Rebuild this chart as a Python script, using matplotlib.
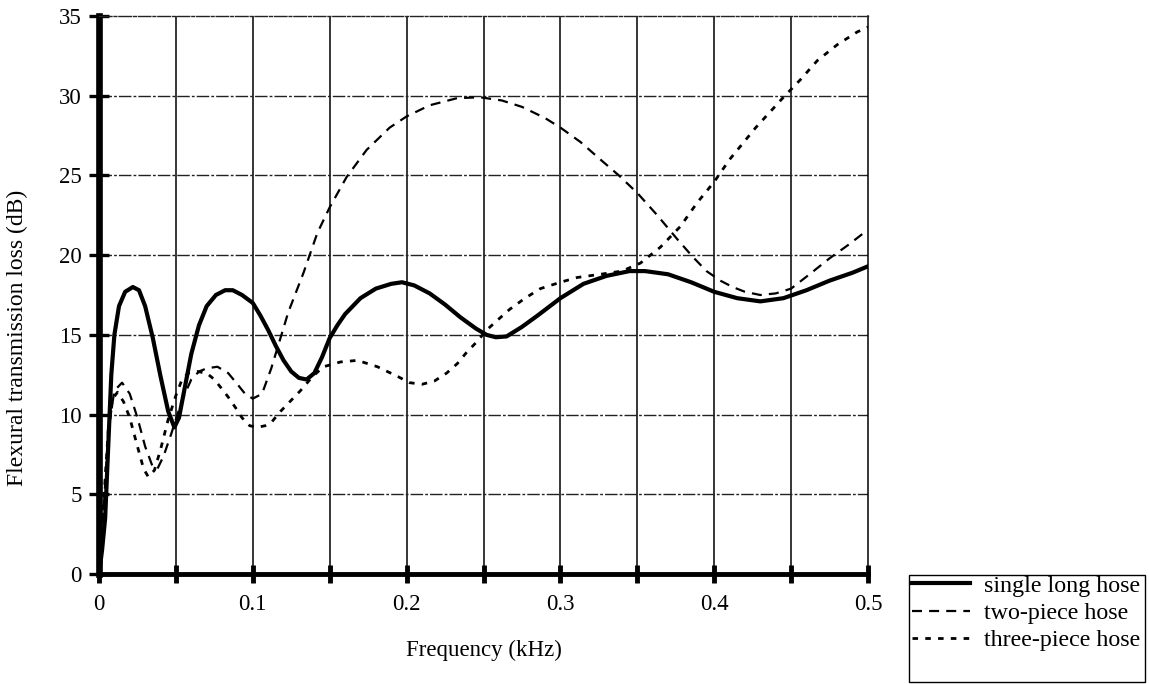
import matplotlib
matplotlib.use("Agg")
import matplotlib.pyplot as plt
from matplotlib.patches import Rectangle
from matplotlib.ticker import MultipleLocator

plt.rcParams['font.family'] = 'serif'
plt.rcParams['font.serif'] = ['Liberation Serif', 'DejaVu Serif']

# ---- data ----
single_x = [0.000, 0.002, 0.004, 0.006, 0.008, 0.010, 0.013, 0.017, 0.022, 0.026,
            0.030, 0.035, 0.040, 0.045, 0.049, 0.052, 0.056, 0.060, 0.065, 0.070,
            0.076, 0.082, 0.087, 0.093, 0.100, 0.105, 0.110, 0.115, 0.120, 0.125,
            0.130, 0.135, 0.140, 0.145, 0.150, 0.155, 0.160, 0.170, 0.180, 0.190,
            0.197, 0.205, 0.215, 0.225, 0.235, 0.245, 0.252, 0.258, 0.265, 0.275,
            0.285, 0.300, 0.315, 0.330, 0.345, 0.355, 0.370, 0.385, 0.400, 0.415,
            0.430, 0.445, 0.460, 0.475, 0.490, 0.500]
single_y = [0.0, 1.5, 3.5, 8.0, 12.5, 15.0, 16.8, 17.7, 18.0, 17.8,
            16.8, 14.8, 12.4, 10.2, 9.2, 9.8, 11.8, 13.8, 15.6, 16.8,
            17.5, 17.8, 17.8, 17.5, 17.0, 16.2, 15.3, 14.3, 13.4, 12.7,
            12.3, 12.2, 12.6, 13.6, 14.8, 15.6, 16.3, 17.3, 17.9, 18.2,
            18.3, 18.1, 17.6, 16.9, 16.1, 15.4, 15.0, 14.85, 14.9, 15.5,
            16.2, 17.3, 18.2, 18.7, 19.0, 19.0, 18.8, 18.3, 17.7, 17.3,
            17.1, 17.3, 17.8, 18.4, 18.9, 19.3]

two_x = [0.000, 0.003, 0.006, 0.010, 0.015, 0.020, 0.025, 0.030, 0.035, 0.038,
         0.042, 0.047, 0.054, 0.060, 0.065, 0.070, 0.077, 0.084, 0.090, 0.095,
         0.100, 0.106, 0.112, 0.118, 0.123, 0.133, 0.142, 0.150, 0.161, 0.174,
         0.189, 0.200, 0.215, 0.233, 0.248, 0.262, 0.275, 0.290, 0.300, 0.313,
         0.326, 0.338, 0.350, 0.363, 0.376, 0.386, 0.395, 0.404, 0.412, 0.420,
         0.430, 0.440, 0.450, 0.462, 0.475, 0.488, 0.500]
two_y = [0.0, 4.0, 9.0, 11.5, 12.0, 11.3, 9.8, 8.0, 6.7, 6.6,
         7.4, 8.8, 10.9, 12.2, 12.7, 12.9, 13.0, 12.6, 11.9, 11.3,
         11.0, 11.3, 12.9, 14.8, 16.4, 18.9, 21.4, 23.0, 24.9, 26.6,
         28.0, 28.7, 29.4, 29.85, 29.9, 29.7, 29.3, 28.6, 28.0, 27.1,
         26.0, 25.0, 23.9, 22.5, 21.0, 19.9, 19.0, 18.4, 18.0, 17.7,
         17.5, 17.6, 17.9, 18.8, 19.8, 20.7, 21.6]

three_x = [0.000, 0.003, 0.006, 0.009, 0.012, 0.016, 0.020, 0.025, 0.029, 0.032,
           0.036, 0.040, 0.045, 0.050, 0.054, 0.058, 0.064, 0.070, 0.075, 0.080,
           0.084, 0.089, 0.093, 0.098, 0.103, 0.108, 0.112, 0.118, 0.125, 0.131,
           0.139, 0.146, 0.157, 0.168, 0.181, 0.194, 0.202, 0.210, 0.218, 0.226,
           0.233, 0.239, 0.246, 0.252, 0.260, 0.267, 0.277, 0.287, 0.300, 0.311,
           0.326, 0.340, 0.352, 0.365, 0.378, 0.389, 0.400, 0.410, 0.427, 0.445,
           0.456, 0.467, 0.480, 0.493, 0.500]
three_y = [0.0, 4.5, 9.0, 11.0, 11.4, 10.8, 9.8, 8.0, 6.6, 6.1,
           6.5, 7.8, 9.7, 11.2, 12.2, 12.6, 12.7, 12.6, 12.2, 11.6,
           11.1, 10.4, 9.8, 9.3, 9.2, 9.3, 9.5, 10.2, 10.9, 11.5,
           12.4, 13.0, 13.3, 13.4, 13.0, 12.4, 12.0, 11.9, 12.1, 12.6,
           13.2, 13.9, 14.6, 15.3, 16.0, 16.6, 17.3, 17.9, 18.3, 18.6,
           18.8, 19.0, 19.5, 20.5, 21.8, 23.3, 24.6, 26.0, 28.0, 29.9,
           31.0, 32.2, 33.2, 34.0, 34.3]

labels = ['single long hose', 'two-piece hose', 'three-piece hose']

# ---- figure ----
W, H = 1149, 684
fig = plt.figure(figsize=(W / 100, H / 100), dpi=100, facecolor='white')
ax = fig.add_axes([99 / W, 1 - 574 / H, 769 / W, 558 / H])

ax.plot(single_x, single_y, color='black', lw=3.0, label=labels[0], zorder=5)
ax.plot(two_x, two_y, color='black', lw=1.6, dashes=(4.5, 3.2), label=labels[1], zorder=4)
ax.plot(three_x, three_y, color='black', lw=2.0, dashes=(2.0, 2.6), label=labels[2], zorder=4)

ax.set_xlim(0, 0.5)
ax.set_ylim(0, 35)
ax.xaxis.set_minor_locator(MultipleLocator(0.05))
ax.yaxis.set_major_locator(MultipleLocator(5))
ax.set_xticks([0, 0.1, 0.2, 0.3, 0.4, 0.5])
ax.set_xticklabels(['0', '0.1', '0.2', '0.3', '0.4', '0.5'])

# grid: solid verticals, broken horizontals
for gx in [0.05, 0.1, 0.15, 0.2, 0.25, 0.3, 0.35, 0.4, 0.45]:
    ax.axvline(gx, color='black', lw=1.1, zorder=1)
for gy in [5, 10, 15, 20, 25, 30]:
    ax.axhline(gy, color='#222222', lw=1.0, dashes=(9, 1.5, 2, 1.5), zorder=1)

ax.spines['left'].set_linewidth(4.8)
ax.spines['bottom'].set_linewidth(3.5)
ax.spines['right'].set_linewidth(1.1)
ax.spines['top'].set_linewidth(1.0)
ax.spines['top'].set_linestyle((0, (9, 1.5, 2, 1.5)))
ax.spines['top'].set_color('#222222')

ax.tick_params(axis='y', direction='inout', length=15, width=2.4, pad=5,
               labelsize=16.5)
ax.tick_params(axis='x', which='both', direction='inout', length=13, width=3.5,
               pad=8, labelsize=16.5)

ax.set_xlabel('Frequency (kHz)', fontsize=16.5, labelpad=18)
fig.text(17 / W, 1 - 338 / H, 'Flexural transmission loss (dB)',
         rotation=90, ha='center', va='center', fontsize=17)

# legend: entries without frame, box drawn separately
leg = fig.legend(loc='upper left', bbox_to_anchor=(912 / W, 1 - 575 / H),
                 bbox_transform=fig.transFigure, borderaxespad=0, fontsize=17.3,
                 frameon=False, handlelength=2.4, handletextpad=0.6,
                 borderpad=0.0, labelspacing=0.22)
fig.patches.append(Rectangle((909 / W, 1 - 682 / H), 236 / W, 107 / H,
                             transform=fig.transFigure, fill=False,
                             edgecolor='black', lw=1.0))

fig.savefig('out.png', dpi=100, facecolor='white')
